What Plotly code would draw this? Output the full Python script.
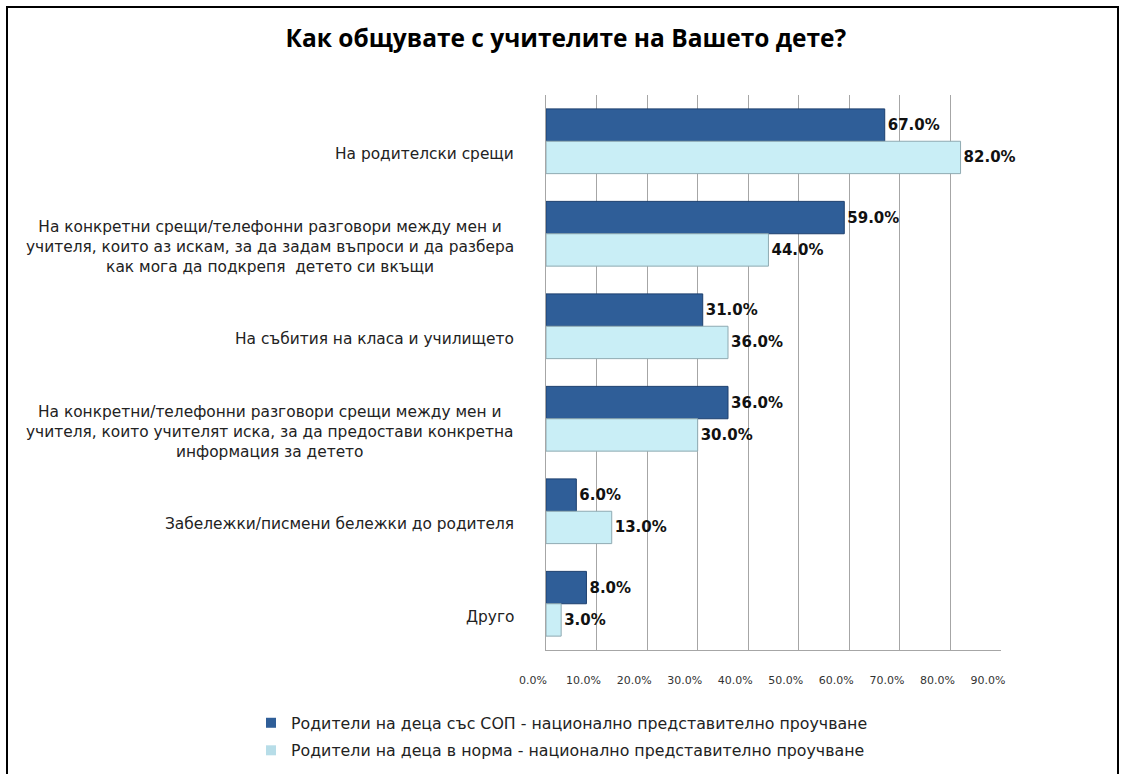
import plotly.graph_objects as go

categories = [
    "На родителски срещи",
    "На конкретни срещи/телефонни разговори между мен и<br>учителя, които аз искам, за да задам въпроси и да разбера<br>как мога да подкрепя  детето си вкъщи",
    "На събития на класа и училището",
    "На конкретни/телефонни разговори срещи между мен и<br>учителя, които учителят иска, за да предостави конкретна<br>информация за детето",
    "Забележки/писмени бележки до родителя",
    "Друго",
]
sop_values = [67.0, 59.0, 31.0, 36.0, 6.0, 8.0]
norm_values = [82.0, 44.0, 36.0, 30.0, 13.0, 3.0]
series_names = [
    "Родители на деца със СОП - национално представително проучване",
    "Родители на деца в норма - национално представително проучване",
]
tick_values = [0, 10, 20, 30, 40, 50, 60, 70, 80, 90]
tick_labels = ["0.0%", "10.0%", "20.0%", "30.0%", "40.0%", "50.0%", "60.0%", "70.0%", "80.0%", "90.0%"]
title_text = "Как общувате с учителите на Вашето дете?"

DARK, DARK_EDGE = "#2F5E98", "#1C3F6E"
LIGHT, LIGHT_EDGE = "#C9EEF6", "#8FAAB2"
FONT = "DejaVu Sans"

W, H = 1125, 774
ML, MR, MT, MB = 546, 124, 95, 124
PW, PH = W - ML - MR, H - MT - MB

fig = go.Figure()
for vals, name, col, edge in [(sop_values, series_names[0], DARK, DARK_EDGE),
                              (norm_values, series_names[1], LIGHT, LIGHT_EDGE)]:
    fig.add_trace(go.Bar(
        y=categories, x=vals, orientation="h", name=name, showlegend=False,
        marker=dict(color=col, line=dict(color=edge, width=1)),
        text=[f"{v:.1f}%" for v in vals], textposition="outside",
        textfont=dict(family=FONT, size=15, color="#111111", weight="bold"),
        cliponaxis=False, hoverinfo="skip",
    ))

# legend entries with small square swatches
for i, (name, col) in enumerate([(series_names[0], DARK), (series_names[1], "#B7DDE8")]):
    fig.add_trace(go.Scatter(
        x=[None], y=[None], mode="markers", name=name, legendgroup=f"g{i}",
        marker=dict(symbol="square", size=10, color=col),
    ))

for c in categories:
    fig.add_annotation(
        x=0, xref="paper", y=c, yref="y", text=c, showarrow=False,
        xanchor="right", align="center", xshift=-30, yshift=-13,
        font=dict(family=FONT, size=15.4, color="#222222"),
    )

# outer frame of the chart area
fig.add_shape(type="rect", xref="paper", yref="paper",
              x0=(7 - ML) / PW, x1=(1118 - ML) / PW,
              y0=(MT + PH - 790) / PH, y1=(MT + PH - 7) / PH,
              line=dict(color="#000000", width=2), fillcolor="rgba(0,0,0,0)", layer="below")

fig.update_layout(
    width=W, height=H,
    margin=dict(l=ML, r=MR, t=MT, b=MB, autoexpand=False),
    paper_bgcolor="white", plot_bgcolor="white",
    barmode="group", bargap=0.3, bargroupgap=0.0,
    title=dict(text=f"<b>{title_text}</b>", x=0.503, xref="container", xanchor="center",
               y=1 - 38 / H, yref="container", yanchor="middle",
               font=dict(family="Open Sans", size=24.5, color="#000000")),
    showlegend=True,
    legend=dict(orientation="v", x=(251 - ML) / PW, xanchor="left",
                y=1 - 706 / H, yref="container", yanchor="top",
                font=dict(family=FONT, size=15.8, color="#222222"),
                bgcolor="rgba(0,0,0,0)", tracegroupgap=4, traceorder="grouped"),
    font=dict(family=FONT, color="#222222"),
)

fig.update_xaxes(range=[0, 90], tickvals=tick_values, ticktext=tick_labels,
                 showgrid=True, gridcolor="#A6A6A6", gridwidth=1,
                 showline=True, linecolor="#A6A6A6", zeroline=False,
                 tickfont=dict(family=FONT, size=11, color="#333333"),
                 ticklabelstandoff=20, ticklabelshift=-13, fixedrange=True)
fig.update_yaxes(categoryorder="array", categoryarray=categories, autorange="reversed",
                 showticklabels=False, showgrid=False, showline=True,
                 linecolor="#A6A6A6", fixedrange=True)

fig.write_html("out.html", config={"displayModeBar": False},
               post_script="document.body.style.margin='0';")
